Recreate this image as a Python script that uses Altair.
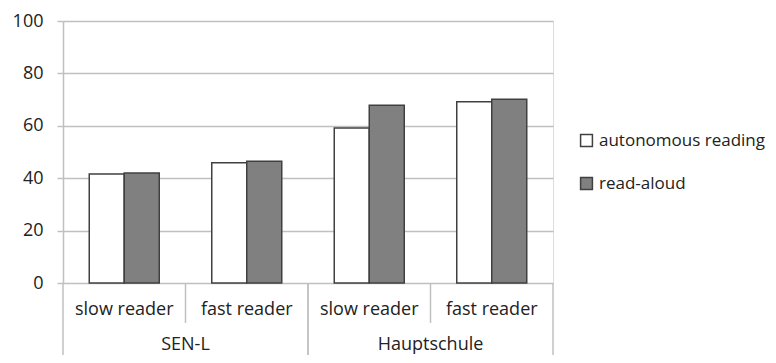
import altair as alt
import pandas as pd

groups = ["SEN-L", "SEN-L", "Hauptschule", "Hauptschule"]
readers = ["slow reader", "fast reader", "slow reader", "fast reader"]
series_names = ["autonomous reading", "read-aloud"]
autonomous = [41.6, 45.9, 59.2, 69.2]
read_aloud = [42.0, 46.5, 67.8, 70.1]
y_ticks = [0, 20, 40, 60, 80, 100]

keys = [g + "|" + r for g, r in zip(groups, readers)]

rows = []
for k, a, b in zip(keys, autonomous, read_aloud):
    rows.append({"key": k, "series": series_names[0], "value": a})
    rows.append({"key": k, "series": series_names[1], "value": b})
bars_df = pd.DataFrame(rows)

labels_df = pd.DataFrame({"key": keys, "reader": readers})
group_names = list(dict.fromkeys(groups))
first_keys = [keys[groups.index(g)] for g in group_names]
last_keys = [keys[len(groups) - 1 - groups[::-1].index(g)] for g in group_names]
group_df = pd.DataFrame({"key": first_keys, "group": group_names})
first_df = pd.DataFrame({"key": first_keys})
last_df = pd.DataFrame({"key": last_keys})
inner_keys = [k for k, r in zip(keys, readers) if r == "slow reader"]
inner_df = pd.DataFrame({"key": inner_keys})

W, H = 490, 262
FONT = "Open Sans"
FS = 18
GRID = "#c0c0c0"
TXT = "#222222"
xscale = alt.Scale(domain=keys, paddingInner=0, paddingOuter=0)

bars = alt.Chart(bars_df).mark_bar(stroke="#404040", strokeWidth=1.5).encode(
    x=alt.X("key:N", scale=xscale,
            axis=alt.Axis(labels=False, ticks=False, title=None, domainColor=GRID,
                          domainWidth=1.5, grid=False)),
    xOffset=alt.XOffset("series:N", sort=series_names,
                        scale=alt.Scale(paddingInner=0, paddingOuter=0.75)),
    y=alt.Y("value:Q", scale=alt.Scale(domain=[0, 100]),
            axis=alt.Axis(values=y_ticks, title=None, grid=True, gridColor=GRID,
                          gridWidth=1.5, domainColor=GRID, domainWidth=1.5,
                          tickColor=GRID, tickWidth=1.5, tickSize=6,
                          labelPadding=14, labelFontSize=FS, labelFont=FONT,
                          labelColor=TXT)),
    color=alt.Color("series:N",
                    scale=alt.Scale(domain=series_names, range=["#ffffff", "#808080"]),
                    legend=alt.Legend(title=None, orient="none", legendX=515, legendY=111,
                                      symbolType="square", symbolSize=140,
                                      symbolStrokeColor="#404040", symbolStrokeWidth=1.5,
                                      labelFont=FONT, labelFontSize=17, labelColor=TXT,
                                      labelLimit=400, rowPadding=24, labelOffset=4,
                                      padding=0)),
)

xl = lambda bp=0.5: alt.X("key:N", scale=xscale, axis=None, bandPosition=bp)

reader_text = alt.Chart(labels_df).mark_text(
    font=FONT, fontSize=FS, baseline="middle", color=TXT
).encode(x=xl(0.5), y=alt.value(H + 27), text="reader:N")

group_text = alt.Chart(group_df).mark_text(
    font=FONT, fontSize=FS, baseline="middle", color=TXT
).encode(x=xl(1), y=alt.value(H + 62), text="group:N")

inner_rules = alt.Chart(inner_df).mark_rule(color=GRID, strokeWidth=1.5).encode(
    x=xl(1), y=alt.value(H), y2=alt.value(H + 40))
first_rules = alt.Chart(first_df).mark_rule(color=GRID, strokeWidth=1.5).encode(
    x=xl(0), y=alt.value(H), y2=alt.value(H + 80))
last_rules = alt.Chart(last_df).mark_rule(color=GRID, strokeWidth=1.5).encode(
    x=xl(1), y=alt.value(H), y2=alt.value(H + 80))

chart = alt.layer(bars, inner_rules, first_rules, last_rules, reader_text, group_text).properties(
    width=W, height=H,
    autosize=alt.AutoSizeParams(type="none"),
    padding={"left": 55, "top": 13, "right": 215, "bottom": 72},
).configure_view(stroke=None).configure(background="white")

chart.save("out.html", embed_options={"renderer": "svg", "actions": False})
